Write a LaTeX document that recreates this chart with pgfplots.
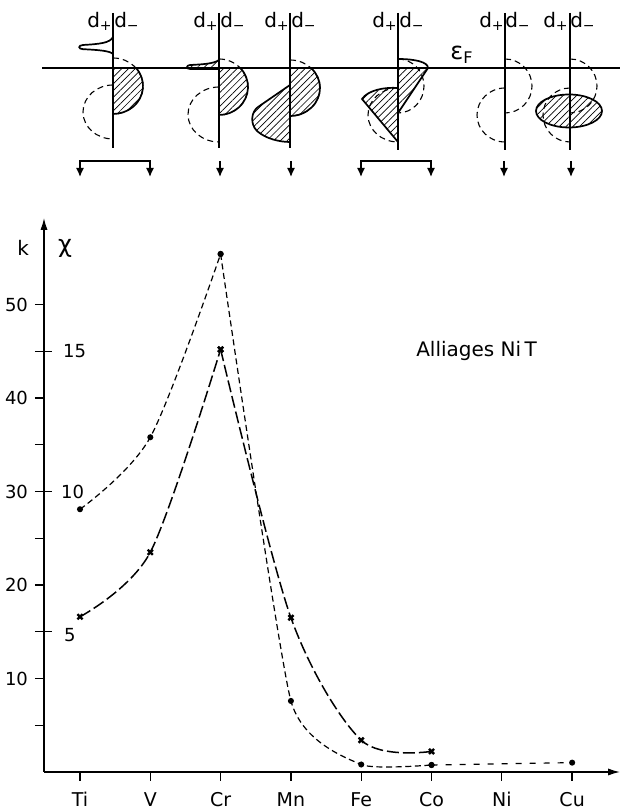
\documentclass[border=0pt]{standalone}
\usepackage{fontspec}
\setmainfont{DejaVu Sans}
\usepackage{pgfplots}
\usepackage{pgfplotstable}
\pgfplotsset{compat=1.18}
\usetikzlibrary{arrows.meta,patterns.meta}

% x = index of the element: 0 Ti, 1 V, 2 Cr, 3 Mn, 4 Fe, 5 Co, 6 Ni, 7 Cu
% k on the axis, chi = k/3
\pgfplotstableread{
x k
0 28.1
1 35.8
2 55.4
}\dotsleft
\pgfplotstableread{
x k
2 55.4
3 7.6
4 0.8
5 0.75
}\dotsright
\pgfplotstableread{
x k
5 0.75
7 1.0
}\dotstail
\pgfplotstableread{
x k
0 16.6
1 23.5
2 45.2
}\crossleft
\pgfplotstableread{
x k
2 45.2
3 16.5
4 3.4
5 2.2
}\crossright

\begin{document}
\begin{tikzpicture}[x=0.5pt,y=0.5pt]
\useasboundingbox (0,0) rectangle (622,808);
\tikzset{
  thinline/.style={line width=0.55pt},
  dsh/.style={line width=0.55pt,dash pattern=on 3pt off 2pt},
  sol/.style={line width=0.85pt},
  hatch/.style={pattern={Lines[angle=45,distance=2.4pt,line width=0.35pt]}},
  arr/.style={line width=0.7pt,-{Latex[length=4.5pt,width=4pt]}},
  arr2/.style={line width=0.7pt,{Latex[length=4.5pt,width=4pt]}-{Latex[length=4.5pt,width=4pt]}},
  dlab/.style={anchor=base,font=\fontsize{10}{11}\selectfont,inner sep=0pt},
}

% density of states sketches
\begin{axis}[at={(0pt,404pt)},anchor=north west,scale only axis,
  width=311pt,height=95pt,xmin=0,xmax=622,ymin=-190,ymax=0,
  hide axis,clip=false]
\draw[line width=0.65pt] (42,-68) -- (620,-68);
\node[anchor=base,font=\fontsize{12}{13}\selectfont,inner sep=0pt] at (462,-60) {ε\textsubscript{F}};

% Ti, V
\draw[thinline] (113,-13) -- (113,-148);
\node[dlab] at (100,-28) {d\textsubscript{+}};
\node[dlab] at (127,-28) {d\textsubscript{−}};
\draw[sol] (113,-37) .. controls (110,-43) and (100,-44) .. (83,-45) .. controls (78,-45.3) and (78,-49) .. (83,-49.2) .. controls (100,-50) and (110,-51) .. (113,-54);
\draw[dsh] (113,-85) arc[start angle=90,end angle=270,x radius=30,y radius=27];
\draw[dsh] (113,-58) arc[start angle=90,end angle=-90,x radius=30,y radius=28];
\draw[sol,hatch] (113,-68) -- (136,-68) arc[start angle=40,end angle=-90,x radius=30,y radius=28] -- cycle;

% Cr
\draw[thinline] (219,-13) -- (219,-148);
\node[dlab] at (206,-28) {d\textsubscript{+}};
\node[dlab] at (233,-28) {d\textsubscript{−}};
\draw[sol,hatch] (219,-60) .. controls (214,-64) and (200,-64.5) .. (190,-65) .. controls (186,-65.3) and (186,-69) .. (190,-69) -- (219,-69);
\draw[dsh] (219,-87) arc[start angle=90,end angle=270,x radius=31,y radius=27.5];
\draw[dsh] (219,-59) arc[start angle=90,end angle=-90,x radius=29,y radius=28];
\draw[sol,hatch] (219,-68) -- (240.3,-68) arc[start angle=42.7,end angle=-90,x radius=29,y radius=28] -- cycle;

% Mn
\draw[thinline] (290,-13) -- (290,-148);
\node[dlab] at (277,-28) {d\textsubscript{+}};
\node[dlab] at (304,-28) {d\textsubscript{−}};
\draw[dsh] (290,-60) arc[start angle=90,end angle=-90,x radius=30,y radius=28];
\draw[sol,hatch] (290,-68) -- (311,-68) arc[start angle=45.6,end angle=-90,x radius=30,y radius=28] -- cycle;
\draw[sol,hatch] (290,-85) -- (258,-107) .. controls (251,-112) and (250,-124) .. (257,-131) .. controls (266,-139) and (280,-142) .. (290,-142) -- cycle;

% Fe, Co
\draw[thinline] (398,-13) -- (398,-150);
\node[dlab] at (385,-28) {d\textsubscript{+}};
\node[dlab] at (412,-28) {d\textsubscript{−}};
\draw[sol] (398,-59) .. controls (415,-59) and (428,-62) .. (428,-68);
\draw[dsh] (398,-59) arc[start angle=90,end angle=-90,x radius=26,y radius=27];
\draw[sol,hatch] (398,-68) -- (428,-68) -- (398,-113) -- cycle;
\draw[dsh] (398,-88) arc[start angle=90,end angle=270,x radius=30,y radius=27];
\draw[sol,hatch] (398,-88) .. controls (385,-87) and (368,-90) .. (362,-99) -- (398,-142) -- cycle;

% Ni
\draw[thinline] (505,-13) -- (505,-150);
\node[dlab] at (492,-28) {d\textsubscript{+}};
\node[dlab] at (518,-28) {d\textsubscript{−}};
\draw[dsh] (505,-59) arc[start angle=90,end angle=-90,x radius=27,y radius=27];
\draw[dsh] (505,-88) arc[start angle=90,end angle=270,x radius=28,y radius=27];

% Cu
\draw[thinline] (570,-13) -- (570,-150);
\node[dlab] at (556,-28) {d\textsubscript{+}};
\node[dlab] at (583,-28) {d\textsubscript{−}};
\draw[dsh] (570,-59) arc[start angle=90,end angle=-90,x radius=27,y radius=27];
\draw[dsh] (570,-88) arc[start angle=90,end angle=270,x radius=27,y radius=27];
\draw[sol,hatch] (569,-111) ellipse [x radius=33,y radius=16.5];

% arrows down to the elements
\draw[arr2] (80,-177) -- (80,-161) -- (150,-161) -- (150,-177);
\draw[arr] (220,-161) -- (220,-177);
\draw[arr] (291,-161) -- (291,-177);
\draw[arr2] (361,-177) -- (361,-161) -- (431,-161) -- (431,-177);
\draw[arr] (504,-161) -- (504,-177);
\draw[arr] (571,-161) -- (571,-177);
\end{axis}

% k and chi of the Ni alloys
\begin{axis}[at={(22pt,18pt)},anchor=south west,scale only axis,
  width=288pt,height=277pt,
  xmin=-0.512,xmax=7.681,ymin=0,ymax=59.25,
  axis lines=left,
  axis line style={line width=0.7pt,-{Latex[length=6pt,width=3.6pt]}},
  xtick={0,...,7},
  xticklabels={Ti,V,Cr,Mn,Fe,Co,Ni,Cu},
  ytick={5,10,...,50},
  yticklabels={,10,,20,,30,,40,,50},
  extra y ticks={15,30,45},
  extra y tick labels={},
  extra y tick style={tick align=center,major tick length=7.5pt},
  tick align=outside,
  major tick length=4.5pt,
  tick style={line width=0.65pt,black},
  xticklabel style={anchor=base,yshift=-12.5pt,font=\fontsize{9.5}{11}\selectfont},
  yticklabel style={font=\fontsize{9}{10}\selectfont},
  /pgf/number format/assume math mode=true,
  clip=false,
]
\addplot[black,line width=0.6pt,dash pattern=on 3pt off 1.8pt,smooth,mark=*,mark size=1.2pt,mark options={solid}] table {\dotsleft};
\addplot[black,line width=0.6pt,dash pattern=on 3pt off 1.8pt,smooth,tension=0.3,mark=*,mark size=1.2pt,mark options={solid}] table {\dotsright};
\addplot[black,line width=0.6pt,dash pattern=on 3pt off 4pt,mark=*,mark size=1.2pt,mark options={solid}] table {\dotstail};
\addplot[black,line width=0.75pt,dash pattern=on 6pt off 2pt,smooth,mark=x,mark size=1.8pt,mark options={solid,line width=1.2pt}] table {\crossleft};
\addplot[black,line width=0.75pt,dash pattern=on 6pt off 2pt,smooth,mark=x,mark size=1.8pt,mark options={solid,line width=1.2pt}] table {\crossright};

\node[font=\fontsize{10}{11}\selectfont] at (-0.81,56) {k};
\node[font=\fontsize{12}{13}\selectfont] at (-0.213,56) {χ};
\node[anchor=west,xshift=6pt,font=\fontsize{9}{10}\selectfont] at (-0.512,45) {15};
\node[anchor=west,xshift=5pt,font=\fontsize{9}{10}\selectfont] at (-0.512,30) {10};
\node[anchor=west,xshift=6.5pt,font=\fontsize{9}{10}\selectfont] at (-0.512,14.6) {5};
\node[anchor=base,font=\fontsize{10}{12}\selectfont] at (5.64,44.4) {Alliages Ni\thinspace T};
\end{axis}
\end{tikzpicture}
\end{document}
